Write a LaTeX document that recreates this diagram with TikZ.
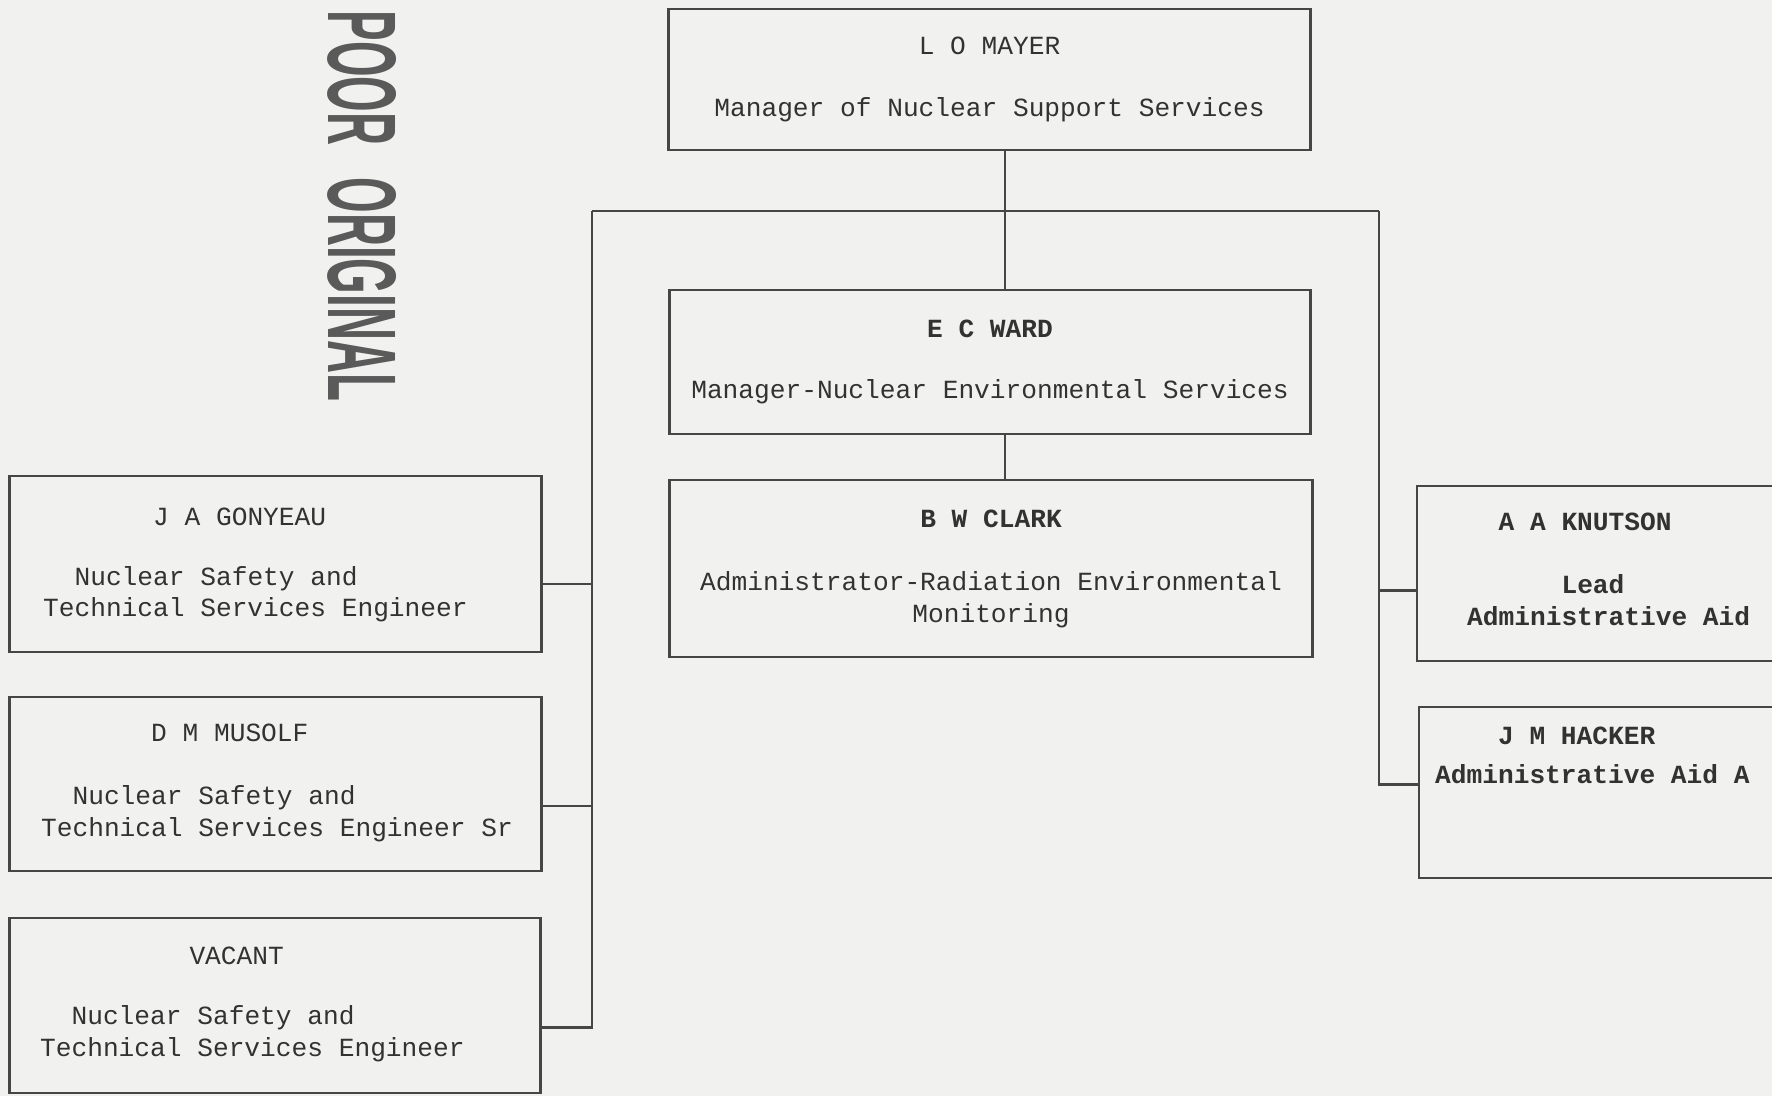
\documentclass[tikz,border=0pt]{standalone}
\usepackage{fontspec}
\usepackage{graphicx}
\newfontfamily\typewriter{Liberation Mono}
\newfontfamily\stampfont{Liberation Sans}
\usetikzlibrary{calc}
\definecolor{paper}{RGB}{241,241,239}
\definecolor{ink}{RGB}{50,50,50}
\definecolor{rule}{RGB}{70,70,70}
\definecolor{stamp}{RGB}{90,90,90}
\newcommand{\pad}[1]{\hspace*{#1\fontcharwd\font`M}}

\begin{document}
\begin{tikzpicture}[x=0.01cm, y=-0.01cm,
	orgbox/.style={draw=rule, line width=0.8pt, inner sep=0pt},
	post/.style={font=\typewriter\fontsize{7.45}{9}\selectfont, text=ink, inner sep=0pt, align=left},
	boldpost/.style={post, font=\typewriter\bfseries\fontsize{7.45}{9}\selectfont},
	centred/.style={post, align=center},
	link/.style={draw=rule, line width=0.8pt}]
	\useasboundingbox (0,0) rectangle (1772,1096);
	\fill[paper] (0,0) rectangle (1772,1096);

	\node (poor) [rotate=-90, text=stamp, inner sep=0pt] at (362,206) {\resizebox{3.9cm}{0.68cm}{\stampfont\bfseries POOR\hspace{0.7em}ORIGINAL}};

	\node (may) [orgbox, centred, minimum width=6.41cm, minimum height=1.41cm] at (989.5,79.5) {L O MAYER\\[8.5pt]Manager of Nuclear Support Services};
	\node (war) [orgbox, centred, minimum width=6.40cm, minimum height=1.44cm] at (990,362) {\textbf{E C WARD}\\[8.5pt]Manager-Nuclear Environmental Services};
	\node (cla) [orgbox, centred, minimum width=6.42cm, minimum height=1.77cm] at (991,568.5) {\textbf{B W CLARK}\\[9pt]Administrator-Radiation Environmental\\Monitoring};

	\node (gon) [orgbox, minimum width=5.31cm, minimum height=1.76cm] at (275.5,564) {};
	\node (gon-txt) [post, anchor=west] at ($(gon.west)+(34,1)$) {\pad{7}J A GONYEAU\\[8pt]\pad{2}Nuclear Safety and\\Technical Services Engineer};
	\node (mus) [orgbox, minimum width=5.31cm, minimum height=1.74cm] at (275.5,784) {};
	\node (mus-txt) [post, anchor=west] at ($(mus.west)+(32,-1)$) {\pad{7}D M MUSOLF\\[9pt]\pad{2}Nuclear Safety and\\Technical Services Engineer Sr};
	\node (vac) [orgbox, minimum width=5.30cm, minimum height=1.75cm] at (275,1005.5) {};
	\node (vac-txt) [post, anchor=west] at ($(vac.west)+(31,-1)$) {\pad{9.5}VACANT\\[8pt]\pad{2}Nuclear Safety and\\Technical Services Engineer};

	\node (knu) [orgbox, minimum width=3.68cm, minimum height=1.75cm] at (1601,573.5) {};
	\node (knu-txt) [boldpost, anchor=west] at ($(knu.west)+(51,-4)$) {\pad{2}A A KNUTSON\\[9pt]\pad{6}Lead\\Administrative Aid};
	\node (hac) [orgbox, minimum width=3.66cm, minimum height=1.71cm] at (1602,792.5) {};
	\node (hac-txt) [boldpost, anchor=west] at ($(hac.west)+(17,-37)$) {\pad{4}J M HACKER\\[2pt]Administrative Aid A};

	\coordinate (lbus) at (592,211);
	\coordinate (rbus) at (1379,211);
	\coordinate (trunk) at (1005,211);

	\draw[link] (lbus) -- (rbus);
	\draw[link] (may.south -| trunk) -- (war.north -| trunk);
	\draw[link] (war.south -| trunk) -- (cla.north -| trunk);
	\draw[link] (lbus) |- ($(vac.east)+(0,22)$);
	\draw[link] (lbus) |- ($(mus.east)+(0,22)$);
	\draw[link] (lbus) |- ($(gon.east)+(0,20)$);
	\draw[link] (rbus) |- ($(hac.west)+(0,-8)$);
	\draw[link] (rbus) |- ($(knu.west)+(0,17)$);
\end{tikzpicture}
\end{document}
